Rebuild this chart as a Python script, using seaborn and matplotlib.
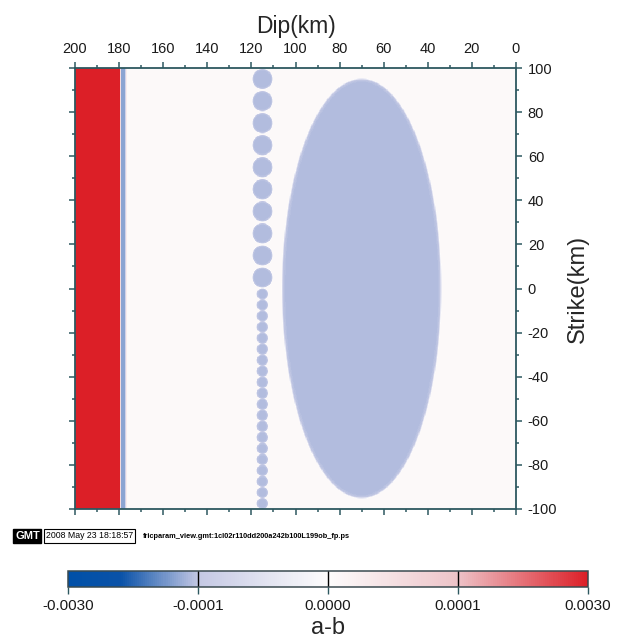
import numpy as np
import pandas as pd
import matplotlib
matplotlib.use('Agg')
import matplotlib.pyplot as plt
import seaborn as sns
from matplotlib.colors import LinearSegmentedColormap, FuncNorm

# Fault plane grid (km), 0.25 km cells
cell = 0.25
dip_centers = np.arange(200 - cell / 2, 0, -cell)        # left (200) -> right (0)
strike_centers = np.arange(100 - cell / 2, -100, -cell)  # top (100) -> bottom (-100)

# a-b values
background_ab = 0.000005
asperity_ab = -0.00025

# down-dip bands near the bottom edge of the fault
band_lo = [179.6, 179.2, 177.6, 177.0, 176.3]
band_hi = [200.0, 179.6, 179.2, 177.6, 177.0]
band_ab = [0.003, 0.00006, -0.0006, -0.00008, 0.00003]

# big ellipse patch
ellipse_dip, ellipse_strike = 70.0, 0.0
ellipse_a, ellipse_b = 35.5, 94.5

# row of circular patches at dip 115 km
circle_dip = 115.0
big_strikes = [95, 85, 75, 65, 55, 45, 35, 25, 15, 5]
big_radius = 4.3
small_strikes = [-2.5, -7.5, -12.5, -17.5, -22.5, -27.5, -32.5, -37.5, -42.5, -47.5,
                 -52.5, -57.5, -62.5, -67.5, -72.5, -77.5, -82.5, -87.5, -92.5, -97.5]
small_radius = 2.3

# colour scale
cbar_ticks = [-0.003, -0.0001, 0.0, 0.0001, 0.003]
cbar_pos = [0.0, 0.25, 0.5, 0.75, 1.0]

# build the field
D, S = np.meshgrid(dip_centers, strike_centers)
ab = np.full(D.shape, background_ab)
for lo, hi, v in zip(band_lo, band_hi, band_ab):
    ab[(D >= lo) & (D < hi)] = v

# soft-edged ellipse (approximate distance to the boundary in km)
u = (D - ellipse_dip) / ellipse_a
v = (S - ellipse_strike) / ellipse_b
r = np.sqrt(u ** 2 + v ** 2) + 1e-9
grad = np.sqrt((u / ellipse_a) ** 2 + (v / ellipse_b) ** 2) / r + 1e-9
edge_km = (1.0 - r) / grad
w = np.clip(edge_km / 1.8 + 0.5, 0, 1)
for strikes, rad in [(big_strikes, big_radius), (small_strikes, small_radius)]:
    for s in strikes:
        dist = np.sqrt((D - circle_dip) ** 2 + (S - s) ** 2)
        w = np.maximum(w, np.clip((rad - dist) / 1.0 + 0.5, 0, 1))
ab = ab * (1 - w) + asperity_ab * w

df = pd.DataFrame(ab, index=strike_centers, columns=dip_centers)

cmap = LinearSegmentedColormap.from_list('polar_ab', [
    (0.0, '#0050a8'),
    (0.10, '#0a52a8'),
    (0.25, '#c4c8e4'),
    (0.5, '#fdfcfc'),
    (0.75, '#edc3c8'),
    (1.0, '#dc1f27'),
])
norm = FuncNorm((lambda x: np.interp(x, cbar_ticks, cbar_pos),
                 lambda x: np.interp(x, cbar_pos, cbar_ticks)),
                vmin=-0.003, vmax=0.003)

sns.set_style('ticks')
plt.rcParams['font.family'] = ['Liberation Sans', 'DejaVu Sans']
frame_col = '#2d5860'

fig = plt.figure(figsize=(6.21, 6.39), dpi=100)
ax = fig.add_axes([75 / 621, 1 - 509 / 639, 441 / 621, 441 / 639])
sns.heatmap(df, ax=ax, cmap=cmap, norm=norm, vmin=-0.003, vmax=0.003,
            cbar=False, xticklabels=False, yticklabels=False, rasterized=True)
mesh = ax.collections[0]

for sp in ax.spines.values():
    sp.set_visible(True)
    sp.set_color(frame_col)
    sp.set_linewidth(1.3)

dip_major = np.arange(200, -1, -20)
dip_minor = np.arange(190, 0, -20)
strike_major = np.arange(100, -101, -20)
strike_minor = np.arange(90, -100, -20)
ax.set_xticks((200 - dip_major) / cell)
ax.set_xticklabels([str(d) for d in dip_major])
ax.set_xticks((200 - dip_minor) / cell, minor=True)
ax.set_yticks((100 - strike_major) / cell)
ax.set_yticklabels([str(s) for s in strike_major])
ax.set_yticks((100 - strike_minor) / cell, minor=True)
ax.tick_params(which='both', direction='out', top=True, bottom=True, left=True, right=True,
               labeltop=True, labelbottom=False, labelleft=False, labelright=True,
               color=frame_col, width=1.1, labelsize=10.5, labelcolor='#1a1a1a')
ax.tick_params(which='major', length=4.5, pad=4)
ax.tick_params(which='minor', length=2.2)
plt.setp(ax.get_yticklabels(), rotation=0)
plt.setp(ax.get_xticklabels(), rotation=0)
ax.xaxis.set_label_position('top')
ax.yaxis.set_label_position('right')
ax.set_xlabel('Dip(km)', fontsize=16.5, labelpad=6.5)
ax.set_ylabel('Strike(km)', fontsize=17, labelpad=7)

# colour bar
cax = fig.add_axes([68 / 621, 1 - 587 / 639, 520 / 621, 16 / 639])
cb = fig.colorbar(mesh, cax=cax, orientation='horizontal')
cb.set_ticks(cbar_ticks)
cb.set_ticklabels(['%.4f' % t for t in cbar_ticks])
cb.outline.set_edgecolor('#3a4a50')
cb.outline.set_linewidth(1.1)
for t in cbar_ticks[1:-1]:
    cax.axvline(t, color='black', lw=1.0)
cax.tick_params(direction='out', length=5, width=1.0, color=frame_col,
                labelsize=11, pad=4, labelcolor='#1a1a1a')
cb.set_label('a-b', fontsize=17, labelpad=2.5)

# GMT time stamp
fig.text(15 / 621, 1 - 536 / 639, 'GMT', color='white', fontsize=8, weight='bold',
         va='center', ha='left',
         bbox=dict(boxstyle='square,pad=0.15', fc='black', ec='black'))
fig.text(46 / 621, 1 - 536 / 639, '2008 May 23 18:18:57', color='black', fontsize=6.3,
         va='center', ha='left',
         bbox=dict(boxstyle='square,pad=0.25', fc='white', ec='black', lw=0.8))
fig.text(143 / 621, 1 - 536 / 639, 'fricparam_view.gmt:1cl02r110dd200a242b100L199ob_fp.ps',
         color='black', fontsize=5.3, weight='bold', va='center', ha='left')

fig.savefig('out.png', dpi=100)
